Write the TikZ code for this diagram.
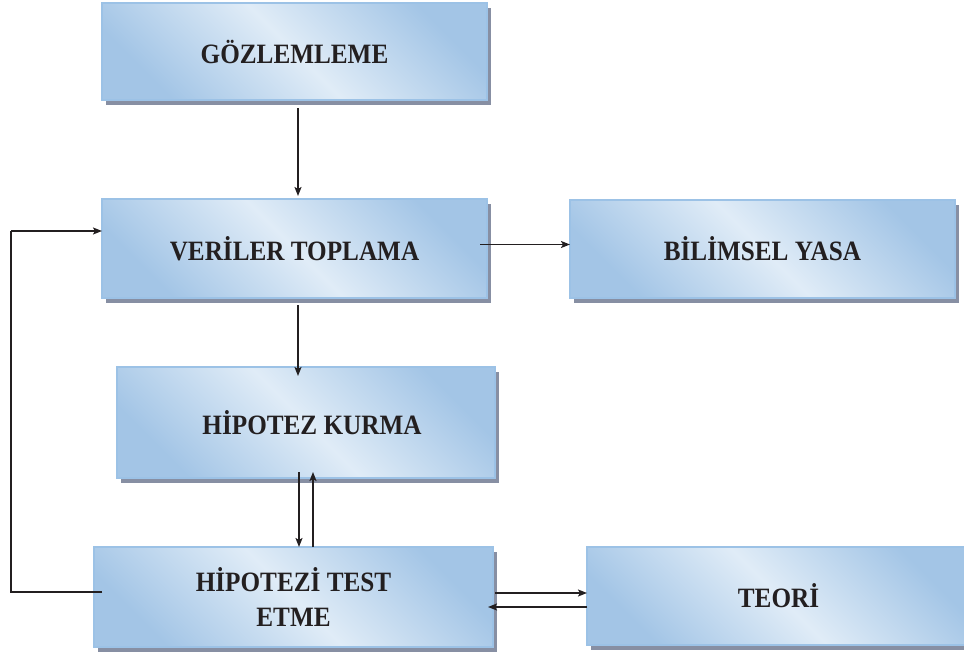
\documentclass[tikz,border=0pt]{standalone}
\usepackage{fontspec}
\setmainfont{Liberation Serif}[FakeStretch=0.9]
\usetikzlibrary{arrows.meta,shadows}
\definecolor{boxdark}{HTML}{A3C5E6}
\definecolor{boxlight}{HTML}{E0ECF7}
\definecolor{boxedge}{HTML}{9CC2E6}
\definecolor{shadowgray}{HTML}{878FA3}
\definecolor{ink}{HTML}{231F20}
\tikzset{
  flowbox/.style={draw=boxedge, line width=2pt, left color=boxdark, right color=boxdark,
    middle color=boxlight, shading angle=135,
    drop shadow={shadow xshift=4pt, shadow yshift=-5pt, fill=shadowgray, opacity=1},
    font=\bfseries\fontsize{28}{35}\selectfont, text=ink, align=center,
    inner sep=0pt, outer sep=0pt},
  arr/.style={draw=ink, line width=1.7pt, -{Stealth[length=9pt,width=7pt,inset=2pt]}},
  plainline/.style={draw=ink, line width=1.7pt}
}
\begin{document}
\begin{tikzpicture}[x=1pt,y=-1pt]
\useasboundingbox (0,0) rectangle (964,653);
\clip (0,0) rectangle (964,653);
\node[flowbox, minimum width=385pt, minimum height=97pt] (goz) at (294.5,51.5) {GÖZLEMLEME};
\node[flowbox, minimum width=385pt, minimum height=99pt] (ver) at (294.5,248.5) {VERİLER TOPLAMA};
\node[flowbox, minimum width=385pt, minimum height=98pt] (bil) at (762.5,249) {BİLİMSEL YASA};
\node[flowbox, minimum width=378pt, minimum height=111pt] (hip) at (306,422.5) {\hspace{12pt}HİPOTEZ KURMA};
\node[flowbox, minimum width=399pt, minimum height=100pt] (test) at (293.5,597) {HİPOTEZİ TEST\\ETME};
\node[flowbox, minimum width=383pt, minimum height=98pt] (teo) at (778.5,596) {TEORİ};
\coordinate (loopbot) at (11,592);
\coordinate (looptop) at (11,231);
% connectors
\draw[arr] ([xshift=3.5pt,yshift=-8pt]goz.south) -- ([xshift=3.5pt,yshift=3pt]ver.north);
\draw[arr] ([xshift=-7pt,yshift=4pt]ver.east) -- ([yshift=4pt]ver.east -| bil.west);
\draw[arr] ([xshift=3.5pt,yshift=-7pt]ver.south) -- ([xshift=3.5pt,yshift=-9pt]hip.north -| ver.south);
\draw[arr] ([xshift=-7pt,yshift=6pt]hip.south) -- ([xshift=-7pt]hip.south |- test.north);
\draw[arr] ([xshift=7pt]hip.south |- test.north) -- ([xshift=7pt,yshift=6pt]hip.south);
\draw[arr] ([xshift=2pt,yshift=4pt]test.east) -- ([yshift=4pt]test.east -| teo.west);
\draw[arr] ([yshift=-11pt]teo.west) -- ([xshift=-5pt,yshift=-11pt]teo.west -| test.east);
\draw[plainline] ([xshift=8pt,yshift=5pt]test.west) -- (loopbot) -- (looptop);
\draw[arr] (looptop) -- (looptop -| ver.west);
\end{tikzpicture}
\end{document}
